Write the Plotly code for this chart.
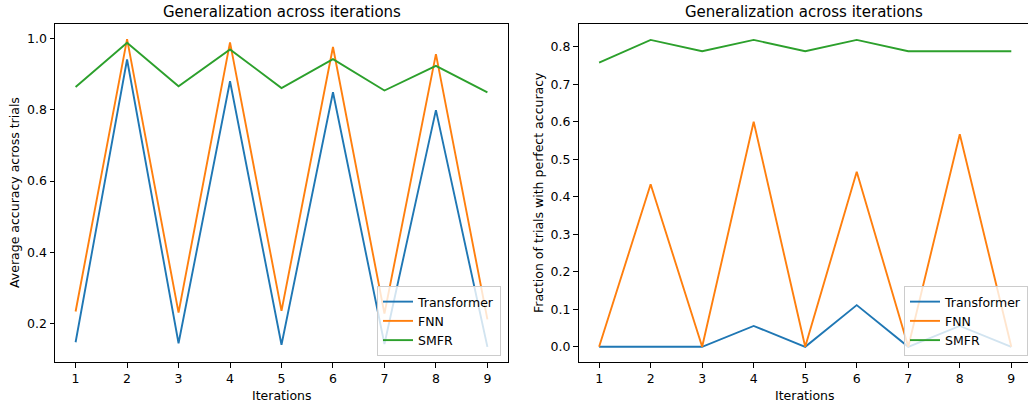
import plotly.graph_objects as go

iterations = [1, 2, 3, 4, 5, 6, 7, 8, 9]

# Left panel: average accuracy across trials
avg_transformer = [0.148, 0.941, 0.145, 0.880, 0.141, 0.849, 0.143, 0.799, 0.135]
avg_fnn = [0.234, 0.998, 0.231, 0.989, 0.236, 0.976, 0.228, 0.956, 0.212]
avg_smfr = [0.864, 0.988, 0.866, 0.969, 0.861, 0.942, 0.854, 0.923, 0.849]

# Right panel: fraction of trials with perfect accuracy
frac_transformer = [0.0, 0.0, 0.0, 0.0556, 0.0, 0.1111, 0.0, 0.0556, 0.0]
frac_fnn = [0.0, 0.4333, 0.0, 0.6, 0.0, 0.4667, 0.0, 0.5667, 0.0]
frac_smfr = [0.7576, 0.8182, 0.7879, 0.8182, 0.7879, 0.8182, 0.7879, 0.7879, 0.7879]

names = ["Transformer", "FNN", "SMFR"]
colors = ["#1f77b4", "#ff7f0e", "#2ca02c"]

W, H = 1028, 404
FONT = "DejaVu Sans"

fig = go.Figure()

for name, vals, c in zip(names, [avg_transformer, avg_fnn, avg_smfr], colors):
    fig.add_trace(go.Scatter(x=iterations, y=vals, mode="lines", name=name,
                             line=dict(color=c, width=1.9), xaxis="x", yaxis="y",
                             legend="legend"))
for name, vals, c in zip(names, [frac_transformer, frac_fnn, frac_smfr], colors):
    fig.add_trace(go.Scatter(x=iterations, y=vals, mode="lines", name=name,
                             line=dict(color=c, width=1.9), xaxis="x2", yaxis="y2",
                             legend="legend2"))

ax_common = dict(showline=True, linecolor="black", linewidth=1, ticks="outside",
                 ticklen=4.5, tickwidth=1, tickcolor="black", showgrid=False,
                 zeroline=False, tickfont=dict(family=FONT, size=12.5, color="black"))

y_top = 1 - 24 / H
y_bot = 1 - 362 / H

legend_common = dict(xanchor="right", yanchor="bottom",
                     bgcolor="rgba(255,255,255,0.8)", bordercolor="#cccccc", borderwidth=1,
                     font=dict(family=FONT, size=12.5, color="black"), itemwidth=30,
                     tracegroupgap=0)

fig.update_layout(
    width=W, height=H,
    margin=dict(l=0, r=0, t=0, b=0),
    paper_bgcolor="white", plot_bgcolor="white",
    font=dict(family=FONT, size=12.5, color="black"),
    xaxis=dict(domain=[55 / W, 508 / W], range=[0.6, 9.4], tickmode="array",
               tickvals=iterations, mirror=True, anchor="y", **ax_common),
    yaxis=dict(domain=[y_bot, y_top], range=[0.0925, 1.0405], tickmode="array",
               tickvals=[0.2, 0.4, 0.6, 0.8, 1.0], tickformat=".1f", mirror=True,
               anchor="x", **ax_common),
    xaxis2=dict(domain=[578.5 / W, 1.0], range=[0.6, 9.324], tickmode="array",
                tickvals=iterations, mirror=True, anchor="y2", **ax_common),
    yaxis2=dict(domain=[y_bot, y_top], range=[-0.0405, 0.8605], tickmode="array",
                tickvals=[0.0, 0.1, 0.2, 0.3, 0.4, 0.5, 0.6, 0.7, 0.8], tickformat=".1f",
                mirror=False, anchor="x2", **ax_common),
    legend=dict(x=501 / W, y=1 - 356 / H, **legend_common),
    legend2=dict(x=1.0, y=1 - 356 / H, **legend_common),
    annotations=[
        dict(text="Generalization across iterations", x=(55 + 508) / 2 / W, y=1 - 12 / H,
             xref="paper", yref="paper", showarrow=False, xanchor="center", yanchor="middle",
             font=dict(family=FONT, size=15, color="black")),
        dict(text="Generalization across iterations", x=(579 + 1028) / 2 / W + 0.5 / W, y=1 - 12 / H,
             xref="paper", yref="paper", showarrow=False, xanchor="center", yanchor="middle",
             font=dict(family=FONT, size=15, color="black")),
        dict(text="Iterations", x=(55 + 508) / 2 / W, y=1 - 395 / H, xref="paper", yref="paper",
             showarrow=False, xanchor="center", yanchor="middle",
             font=dict(family=FONT, size=12.5, color="black")),
        dict(text="Iterations", x=805 / W, y=1 - 395 / H, xref="paper", yref="paper",
             showarrow=False, xanchor="center", yanchor="middle",
             font=dict(family=FONT, size=12.5, color="black")),
        dict(text="Average accuracy across trials", x=14 / W, y=(y_top + y_bot) / 2,
             xref="paper", yref="paper", showarrow=False, textangle=-90,
             xanchor="center", yanchor="middle",
             font=dict(family=FONT, size=12.5, color="black")),
        dict(text="Fraction of trials with perfect accuracy", x=538 / W, y=(y_top + y_bot) / 2,
             xref="paper", yref="paper", showarrow=False, textangle=-90,
             xanchor="center", yanchor="middle",
             font=dict(family=FONT, size=12.5, color="black")),
    ],
)

fig.write_html(
    "out.html",
    config={"displayModeBar": False},
    post_script="document.body.style.margin='0';document.body.style.padding='0';"
                "document.body.style.overflow='hidden';",
)
